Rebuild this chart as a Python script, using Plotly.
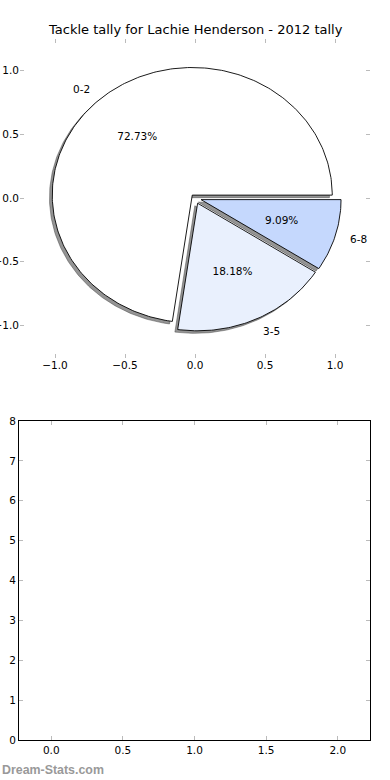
import numpy as np
import plotly.graph_objects as go

# ---- data ----
categories = ["0-2", "3-5", "6-8"]
tallies = [8, 2, 1]
chart_title = "Tackle tally for Lachie Henderson - 2012 tally"
watermark = "Dream-Stats.com"
explode = [0.03, 0.045, 0.045]
slice_colors = ["#ffffff", "#e9f0fd", "#c5d8fd"]

pie_ticks = [-1.0, -0.5, 0.0, 0.5, 1.0]
bottom_xticks = [0.0, 0.5, 1.0, 1.5, 2.0]
bottom_yticks = [0, 1, 2, 3, 4, 5, 6, 7, 8]

W, H = 390, 780
FONT = "DejaVu Sans"

fig = go.Figure()

total = float(sum(tallies))
fracs = [t / total for t in tallies]
bounds = np.concatenate([[0.0], np.cumsum(fracs) * 360.0])

wedges = []
for i, (lab, fr) in enumerate(zip(categories, fracs)):
    t1, t2 = bounds[i], bounds[i + 1]
    mid = np.deg2rad((t1 + t2) / 2.0)
    cx = explode[i] * np.cos(mid)
    cy = explode[i] * np.sin(mid)
    n = max(int(t2 - t1) + 2, 12)
    th = np.deg2rad(np.linspace(t1, t2, n))
    xs = np.concatenate([[cx], cx + np.cos(th), [cx]])
    ys = np.concatenate([[cy], cy + np.sin(th), [cy]])
    wedges.append((lab, fr, mid, cx, cy, xs, ys, slice_colors[i]))

# shadows (behind all wedges)
for lab, fr, mid, cx, cy, xs, ys, col in wedges:
    fig.add_trace(go.Scatter(
        x=xs - 0.02, y=ys - 0.02, mode="lines", fill="toself",
        fillcolor="rgba(60,60,60,0.55)", line=dict(color="rgba(60,60,60,0.55)", width=0.8),
        hoverinfo="skip", showlegend=False, xaxis="x", yaxis="y"))

# wedges
for lab, fr, mid, cx, cy, xs, ys, col in wedges:
    fig.add_trace(go.Scatter(
        x=xs, y=ys, mode="lines", fill="toself", fillcolor=col,
        line=dict(color="#000000", width=0.9), name=lab,
        hoverinfo="skip", showlegend=False, xaxis="x", yaxis="y"))

# labels and percentages
for lab, fr, mid, cx, cy, xs, ys, col in wedges:
    lx = cx + 1.1 * np.cos(mid)
    ly = cy + 1.1 * np.sin(mid)
    fig.add_annotation(x=lx, y=ly, xref="x", yref="y", text=lab, showarrow=False,
                       xanchor="left" if lx > 0 else "right", yanchor="middle",
                       font=dict(family=FONT, size=10.5, color="#000000"), borderpad=0)
    px_ = cx + 0.6 * np.cos(mid)
    py_ = cy + 0.6 * np.sin(mid)
    fig.add_trace(go.Scatter(
        x=[px_], y=[py_], mode="text", text=["%.2f%%" % (fr * 100)],
        textposition="middle center",
        textfont=dict(family=FONT, size=10.5, color="#000000"),
        hoverinfo="skip", showlegend=False, xaxis="x", yaxis="y"))

# empty bottom axes need an invisible trace to be drawn
fig.add_trace(go.Scatter(x=[None], y=[None], mode="markers", xaxis="x2", yaxis="y2",
                         showlegend=False, hoverinfo="skip"))

tickfont = dict(family=FONT, size=10.5, color="#000000")
common = dict(showgrid=False, zeroline=False, ticks="inside", ticklen=4,
              tickwidth=1, tickcolor="#bbbbbb", tickfont=tickfont, fixedrange=True,
              automargin=False)

fig.update_layout(
    width=W, height=H,
    margin=dict(l=0, r=0, t=0, b=0, autoexpand=False),
    paper_bgcolor="white", plot_bgcolor="white",
    xaxis=dict(domain=[20 / W, 370 / W], range=[-1.25, 1.25], anchor="y",
               tickvals=pie_ticks, tickformat=".1f", showline=False, mirror="ticks", **common),
    yaxis=dict(domain=[(H - 357.5) / H, (H - 38.5) / H], range=[-1.25, 1.25], anchor="x",
               tickvals=pie_ticks, tickformat=".1f", showline=False, mirror="ticks", **common),
    xaxis2=dict(domain=[19 / W, 370 / W], range=[-0.225, 2.225], anchor="y2",
                tickvals=bottom_xticks, tickformat=".1f", showline=True, linecolor="#000000",
                linewidth=1, mirror="ticks", **common),
    yaxis2=dict(domain=[(H - 740) / H, (H - 421) / H], range=[0, 8], anchor="x2",
                tickvals=bottom_yticks, showline=True, linecolor="#000000",
                linewidth=1, mirror="ticks", **common),
    showlegend=False,
)

fig.add_annotation(x=195 / W, y=(H - 30) / H, xref="paper", yref="paper",
                   text=chart_title, showarrow=False, xanchor="center", yanchor="middle",
                   font=dict(family=FONT, size=13, color="#000000"))
fig.add_annotation(x=0, y=(H - 770) / H, xref="paper", yref="paper",
                   text="<b>" + watermark + "</b>", showarrow=False, xanchor="left",
                   yanchor="middle",
                   font=dict(family="Liberation Sans", size=12.4, color="#999999"))

fig.write_html("out.html", config={"displayModeBar": False, "staticPlot": True},
               post_script="document.body.style.margin='0';document.body.style.padding='0';"
                           "document.documentElement.style.overflow='hidden';")
